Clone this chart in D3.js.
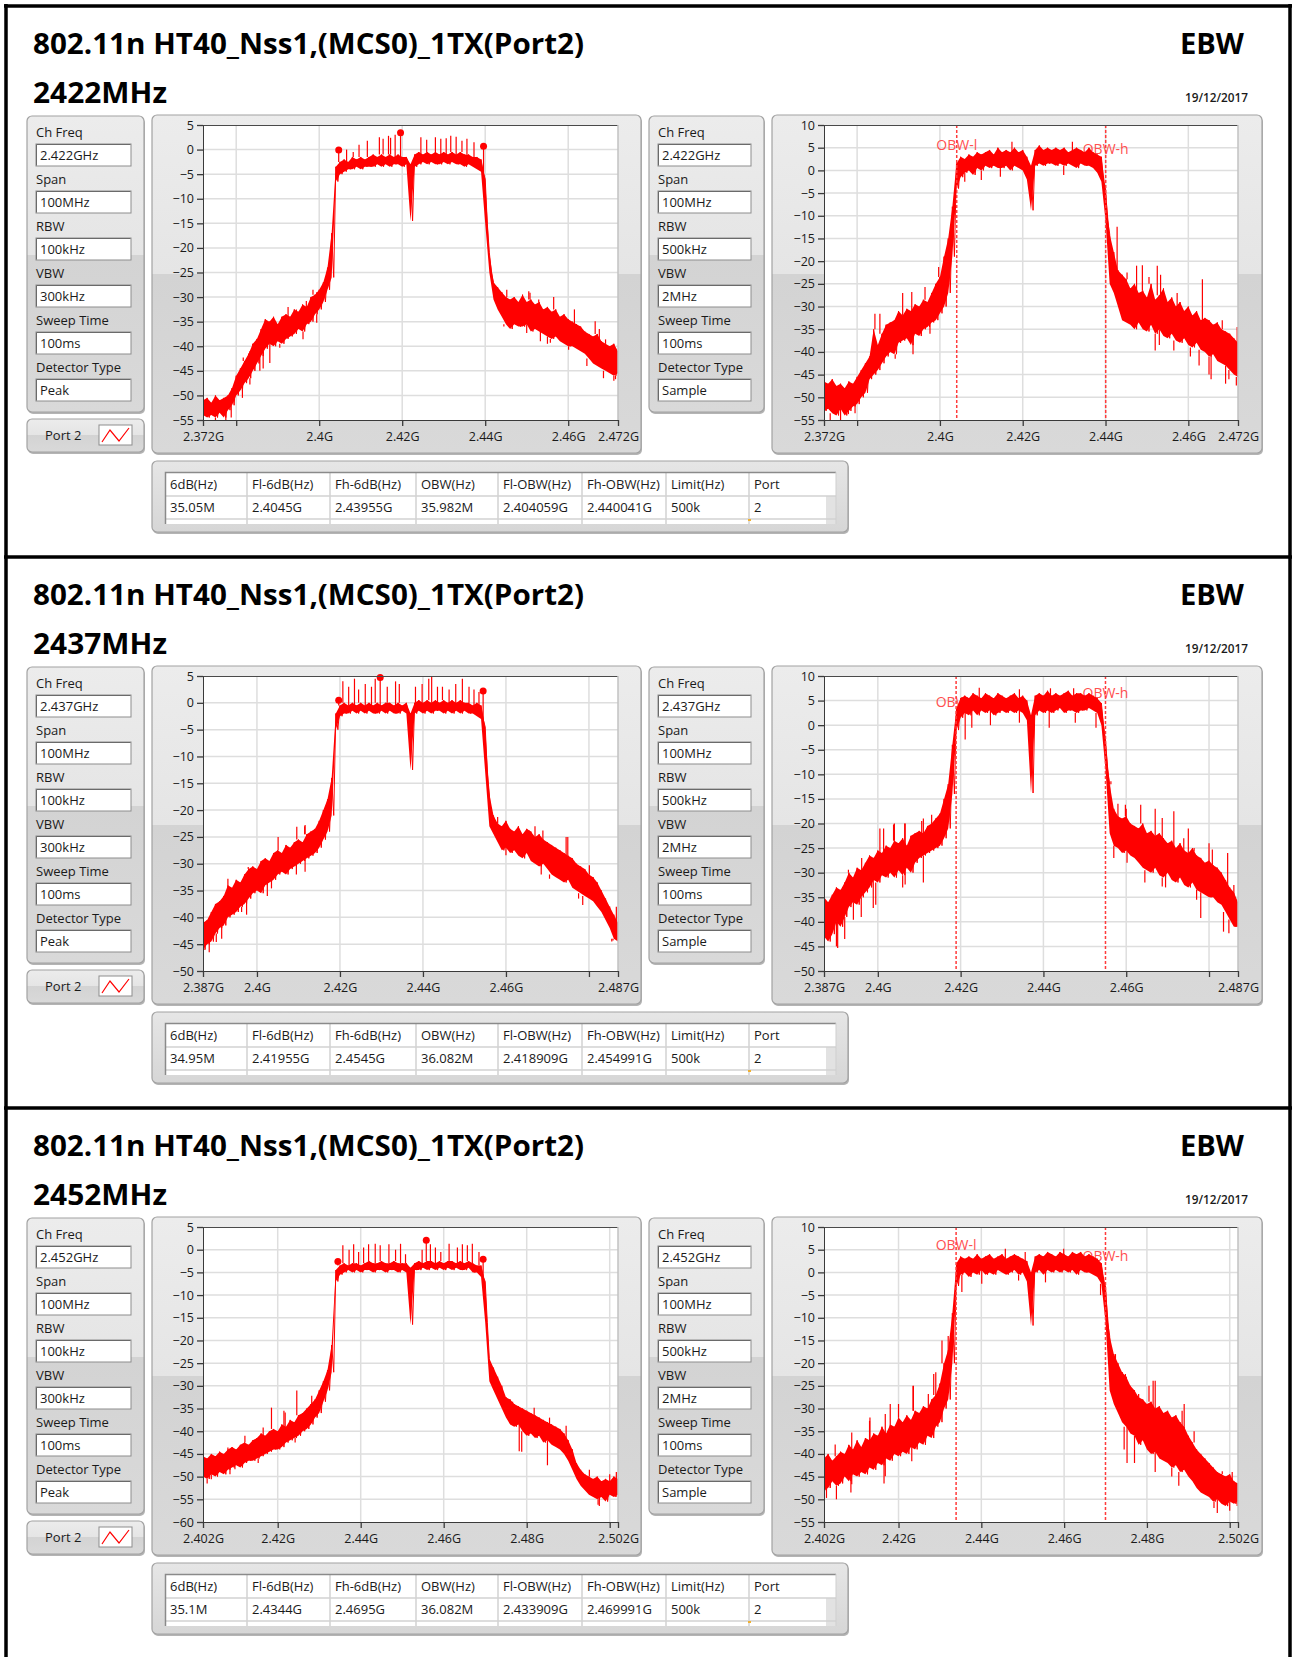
<!DOCTYPE html>
<html>
<head>
<meta charset="utf-8">
<script src="https://cdn.jsdelivr.net/npm/d3@7"></script>
<style>
  body { margin: 0; background: #fff; }
  svg { display: block; font-family: "Open Sans", "Noto Sans", sans-serif; }
</style>
</head>
<body>
<svg id="chart" width="1292" height="1657"></svg>
<script>
// ---- texts ----
const titleText = "802.11n HT40_Nss1,(MCS0)_1TX(Port2)";
const chLabels = ["2422MHz", "2437MHz", "2452MHz"];
const tagText = "EBW";
const dateText = "19/12/2017";

// ---- analyser settings ----
const paramNames = ["Ch Freq", "Span", "RBW", "VBW", "Sweep Time", "Detector Type"];
const chFreqs = ["2.422GHz", "2.437GHz", "2.452GHz"];
const peakParams = ["100MHz", "100kHz", "300kHz", "100ms", "Peak"];
const sampleParams = ["100MHz", "500kHz", "2MHz", "100ms", "Sample"];

// ---- axes ----
const startGHz = [2.372, 2.387, 2.402];   // span is 100 MHz
const xTicks = [
  [2.372, 2.38, 2.4, 2.42, 2.44, 2.46, 2.472],
  [2.387, 2.4, 2.42, 2.44, 2.46, 2.48, 2.487],
  [2.402, 2.42, 2.44, 2.46, 2.48, 2.5, 2.502]
];
const xTickLabels = [
  ["2.372G", "", "2.4G", "2.42G", "2.44G", "2.46G", "2.472G"],
  ["2.387G", "2.4G", "2.42G", "2.44G", "2.46G", "", "2.487G"],
  ["2.402G", "2.42G", "2.44G", "2.46G", "2.48G", "", "2.502G"]
];
const peakYRange = [[-55, 5], [-50, 5], [-60, 5]];
const sampleYRange = [[-55, 10], [-50, 10], [-55, 10]];

// ---- result table ----
const tableHeader = ["6dB(Hz)", "Fl-6dB(Hz)", "Fh-6dB(Hz)", "OBW(Hz)", "Fl-OBW(Hz)", "Fh-OBW(Hz)", "Limit(Hz)", "Port"];
const tableRows = [
  ["35.05M", "2.4045G", "2.43955G", "35.982M", "2.404059G", "2.440041G", "500k", "2"],
  ["34.95M", "2.41955G", "2.4545G", "36.082M", "2.418909G", "2.454991G", "500k", "2"],
  ["35.1M", "2.4344G", "2.4695G", "36.082M", "2.433909G", "2.469991G", "500k", "2"]
];
const obwLow = [2.404059, 2.418909, 2.433909];
const obwHigh = [2.440041, 2.454991, 2.469991];
const obwLabelDb = [[5.6, 4.7], [4.8, 6.5], [6, 3.7]];

// ---- traces: max / min per 1 MHz bin (dB) ----
// spk / dip = single samples sticking out of the band [MHz offset, dB]
const hi1L = [-51,-50.5,-51.5,-50,-51,-50.5,-50,-48.5,-46,-44.5,-43,-41.5,-39.5,-38.5,-36.5,-34.5,-35,-34,-35.5,-34,-33.5,-34,-32.5,-33,-31.5,-32,-30,-29.5,-28.5,-27,-24,-17,-3.5,-2.5,-2,-2.5,-1.5,-2,-1.5,-2,-1.5,-1,-1.5,-1,-1.5,-1,-1.5,-1,-1.5,-1.5,-3,-1,-0.5,-1,-0.5,-1,-0.5,-1,-0.5,-1,-0.5,-1,-0.5,-1,-1,-1.5,-1.5,-2,-6,-21,-27,-28,-29,-30,-30.5,-30,-31,-29.5,-31,-30.5,-31.5,-31,-32.5,-32,-33,-32.5,-34,-33.5,-34.5,-35,-35.5,-36,-37,-37.5,-38,-37.5,-39,-39.5,-40,-39.5,-41];
const lo1L = [-54,-54.5,-54,-54.5,-53.5,-54.5,-53,-52,-50,-49,-47.5,-46.5,-45,-43.5,-42,-40.5,-39.5,-40,-39,-39.5,-38.5,-38,-37.5,-36.5,-37,-35.5,-35,-33.5,-32.5,-31,-28.5,-26,-6.5,-5,-4.5,-4,-4,-3.5,-4,-3.5,-3.5,-3.5,-3,-3.5,-3,-3.5,-3,-3,-3.5,-3,-14.5,-3.5,-3,-2.5,-3,-2.5,-3,-3,-2.5,-3,-2.5,-3,-3,-3.5,-3,-3.5,-4,-4.5,-15,-25,-30.5,-32.5,-34,-35.5,-36.5,-35.5,-36,-36,-35.5,-37,-36.5,-37,-37.5,-38,-38.5,-38,-39,-39.5,-40,-40,-40.5,-41,-41.5,-42.5,-43.5,-44,-44.5,-45,-45.5,-46,-45.5];
const spk1L = [[34.6,0],[36.2,-0.5],[37.6,1],[39.6,1.8],[42.5,2.5],[43.4,2.2],[44.7,2.8],[45.2,2.4],[46.3,3],[52.5,2.5],[53.9,2],[56,2.5],[57.3,2.2],[58.6,2.3],[59.7,2.8],[61,2.6],[62.4,1.8],[63.6,2.2],[65.3,1.5],[9.7,-42.3],[11.3,-41],[16.1,-35.2],[19.3,-33.9],[20.5,-32],[22.5,-32.5],[24.9,-30.8],[26.5,-28.5],[27.4,-29],[73.2,-28.5],[78.5,-28.8],[78.8,-29.1],[80.9,-30.5],[84.5,-30],[84.9,-32.5],[89.5,-32.5],[94.5,-34.9],[95.5,-36.5],[97,-38.6],[99.4,-39.5]];
const dip1L = [[3,-55],[5.5,-55],[6.8,-54.5],[9.5,-50.5],[11.3,-47.8],[13.7,-45],[14.5,-44.5],[16.1,-43.4],[18.5,-40.3],[24.1,-38.6],[27.4,-35.2],[72.5,-36],[78,-37.3],[81.3,-39],[83,-39.5],[83.7,-39.3],[88.1,-40.7],[92.5,-44],[96.5,-46.5],[99,-47],[99.4,-46.7]];
const mrk1L = [[32.7,-0.1],[47.6,3.4],[67.6,0.7]];

const hi1R = [-46.5,-47,-46,-47.5,-47,-48,-46.5,-47,-45.5,-44,-42.5,-41,-35,-38.5,-36,-34,-33.5,-33,-31,-32,-30.5,-31,-29.5,-30,-28.5,-29,-27,-25,-23.5,-19,-15,-8,1.5,3,2.5,3.5,3,4,3.5,4,4.5,3.5,5,4,4.5,4,5,4,4.5,3,1,4.5,5.5,4.5,5,4.5,5,4.5,5,4,4.5,5,4.5,4,5,4,3.5,3,-4,-14,-18,-22,-23,-24,-26,-25,-27,-26.5,-28,-25,-28.5,-27.5,-26,-29,-28,-30,-29,-31,-30,-32,-31,-33,-32.5,-33,-34,-33.5,-35,-35.5,-36,-37,-38];
const lo1R = [-53,-52.5,-53.5,-54,-52.5,-54,-53,-52,-51.5,-50,-49,-46,-45,-44,-42.5,-41,-40,-40.5,-38,-37.5,-37,-38.5,-36,-36.5,-35,-34.5,-33.5,-33,-31.5,-30,-27,-19,-4,-1.5,-0.5,0,-1,0.5,0,1,0.5,1,0.5,0.5,1,0,1,0.5,0,-2,-8.8,1,1.5,1,1.5,1.5,1,1.5,1,1.5,1,0.5,1.5,1,1,0.5,-0.5,-2.5,-11,-25,-27,-30,-33,-33.5,-34,-35,-33.5,-35,-35.5,-34,-36,-35,-36.5,-37,-36,-37.5,-38,-37,-38.5,-39,-38,-39.5,-40,-41,-40.5,-42,-42.5,-43,-44,-45,-45.5];
const spk1R = [[12.3,-31.6],[13.5,-31.6],[19,-27],[21.2,-26.8],[24.4,-25.7],[27.7,-21.3],[45.4,6.3],[60,6.3],[70.8,-12.4],[73.2,-22.5],[75.5,-21],[76.9,-20.9],[78.5,-23.5],[80.5,-21],[81.3,-23],[85.3,-27],[91.4,-24],[96.2,-33],[99.8,-34.5]];
const dip1R = [[1.5,-55],[2.7,-54],[4,-55.5],[5.9,-53.7],[7.5,-53.5],[14.8,-41],[17.2,-41.5],[21.5,-40.5],[25.6,-36],[34,-2.5],[38,-2.1],[42.6,-1.4],[57.9,-1],[71.6,-33],[80,-39.7],[81,-38.5],[84.5,-39.7],[88.5,-41],[90.6,-43],[93,-45],[93.5,-46],[97,-47],[97.8,-46],[99.6,-47.4]];

const hi2L = [-41,-40.5,-39,-37.5,-37,-36,-34,-34.5,-33,-33.5,-32,-31,-30.5,-31,-29.5,-29,-29.5,-28,-27.5,-28,-26.5,-27,-26,-25.5,-26,-24.5,-24,-23.5,-22,-20,-18,-14,-2,-0.5,0,-0.5,0,-0.5,0,-0.5,0,-0.5,0,-0.5,0,0,-0.5,0,-0.5,0,-2,0,0.5,0,0.5,0,0.5,0,0.5,0,0.5,0,0.5,0,0,-0.5,0,-0.5,-4.5,-17,-21,-22.5,-23,-22,-23.5,-24,-23,-24.5,-23.5,-24,-25,-24.5,-25.5,-26,-26.5,-27,-27.5,-28,-28.5,-29,-30,-30.5,-31,-32,-32.5,-33.5,-35,-36.5,-38,-39.5,-41];
const lo2L = [-46,-45,-44.5,-43,-42,-41.5,-40,-39.5,-39,-38,-37.5,-36.5,-35.5,-35,-35.5,-34,-33.5,-33,-32,-31.5,-32,-31,-30.5,-30,-29.5,-29,-28.5,-28,-27,-25.5,-24,-21,-5,-2.5,-2,-2,-1.5,-2,-1.5,-2,-1.5,-2,-2,-1.5,-2,-1.5,-2,-2,-1.5,-2,-12.5,-2,-1.5,-2,-1.5,-2,-1.5,-1.5,-2,-1.5,-2,-1.5,-2,-1.5,-2,-2,-2.5,-3,-13,-23,-24.5,-26,-27.5,-27,-28,-27.5,-28.5,-29,-28,-29.5,-30,-30.5,-30,-31,-32,-32.5,-33,-33.5,-33,-34.5,-35,-35.5,-36,-36.5,-37,-38,-39,-40.5,-42,-44,-44.5];
const spk2L = [[33.7,4],[35.1,3],[36.5,4.5],[37.5,2.5],[39.1,3.5],[40.6,3],[41.5,4.5],[44.4,3],[46.4,4],[47.3,3.5],[51.2,3],[52.8,3.5],[54.4,4.5],[55.1,4.8],[56.5,3],[57.7,3],[59.3,2.5],[60.9,3.5],[62.5,4.5],[64.1,3],[65.3,2.5],[66.5,2],[6,-32.8],[10.9,-30.6],[18.1,-25],[22.6,-23.1],[24.5,-23],[24.6,-22.8],[27,-23.5],[29.4,-20.3],[71,-21.3],[75.4,-24],[78.6,-23.8],[80,-23],[81.9,-23.8],[87.5,-25],[87.9,-25],[93.1,-30.3],[99.6,-38]];
const dip2L = [[0.4,-46.1],[1.5,-46.5],[3.2,-44.6],[4.5,-44],[9.3,-39],[10.5,-39.5],[15.5,-36],[16.5,-34.6],[22.5,-32],[24.6,-31.5],[73,-28.4],[81.5,-32],[83.5,-32.8],[90.5,-36.5],[91.5,-37.7],[98.5,-44.5],[98.8,-44.3]];
const mrk2L = [[32.7,0.5],[42.7,4.7],[67.5,2.2]];

const hi2R = [-35,-36,-34.5,-33,-33.5,-32,-30,-31,-29,-29.5,-28,-26.5,-27,-25.5,-26,-24.5,-25,-23.5,-24,-23,-24.5,-22.5,-22,-21.5,-22,-20.5,-20,-19,-18,-15,-12,-4,3.5,5.5,6,5.5,6.5,6,5.5,6.5,6,5.5,6.5,6,5.5,6,6.5,5.5,6,5,2,6,6.5,6,7,6,6.5,6,6.5,7,6,6.5,6.5,6,6.5,6,5.5,4.5,-3,-12,-17,-18.5,-19,-18.5,-20,-20.5,-21,-20,-22,-21.5,-22.5,-22,-23,-24,-23.5,-25,-24,-25.5,-26,-25,-26.5,-27,-28,-27.5,-28.5,-29,-30,-31.5,-33,-34,-36];
const lo2R = [-43,-44,-42.5,-40,-41,-39,-37,-36,-36.5,-35,-34,-33,-31.5,-32,-30.5,-31,-30,-31,-29.5,-30.5,-29,-30,-28,-27,-26.5,-26,-25.5,-25,-24.5,-23,-21,-14,-1,1.5,2.5,2,3,2,3,2.5,3,2,2.5,3,2.5,3,2.5,3,2.5,1,-13.8,2,3,2.5,3,2.5,3,3.5,2.5,3,3,2.5,3,3,3.5,3,2.5,0,-9,-22,-24.5,-25,-26,-25.5,-26.5,-27,-28,-29,-29.5,-30,-29,-30.5,-31,-30,-31.5,-32,-31,-32.5,-33,-32,-33.5,-34,-34.5,-35,-35,-36,-36.5,-38,-39.5,-41,-41];
const spk2R = [[5.9,-29.4],[9.1,-27],[13.5,-21],[14.4,-21],[16.8,-20.2],[17,-20],[19.5,-20],[19.6,-20],[23.6,-19.5],[24,-19],[26,-18.2],[37.5,7.6],[47.2,7.3],[54.7,7.5],[60.3,7.5],[69.3,-11.4],[71,-16],[72.8,-16.2],[73,-17],[76.5,-16.2],[80,-17],[81.7,-18.9],[84.5,-17.5],[86.9,-23],[88,-21],[89.4,-25.7],[93,-24],[93.8,-25.3],[97.5,-26],[99,-32.5]];
const dip2R = [[3,-45],[3.3,-45.3],[5,-43.5],[7.1,-39.6],[9,-39],[11.9,-37.2],[12.5,-36.5],[19,-33],[19.6,-32.4],[24,-32],[34.1,-2.9],[35.7,-0.5],[40.2,0],[47.2,0.5],[54.4,-0.5],[60.7,0.5],[65.7,-0.5],[70,-27],[73.2,-28],[77.5,-32],[81.7,-32.8],[82.5,-33],[90,-35.5],[91,-39.2],[96.5,-42],[97.8,-42.3]];

const hi3L = [-45.5,-46,-45,-45.5,-44.5,-45,-44,-43.5,-44,-43,-42.5,-43,-42,-41.5,-40.5,-41,-40,-39.5,-40,-38.5,-39,-37.5,-38,-36.5,-36,-35,-34,-33,-31,-29,-26.5,-21,-4.5,-3.5,-3,-3.5,-3,-3,-3.5,-3,-2.5,-3,-3,-2.5,-3,-3,-2.5,-3,-3,-3,-4,-3,-2.5,-3,-2.5,-2.5,-3,-2.5,-3,-2.5,-2.5,-3,-2.5,-3,-2.5,-3,-3.5,-3.5,-7,-24,-26,-28,-30,-32.5,-33,-34,-34.5,-35,-35.5,-36,-36.5,-37,-37.5,-38,-38.5,-39,-39.5,-40.5,-42,-44,-47,-48.5,-49.5,-50,-50.5,-50,-51,-50.5,-51,-50,-50.5];
const lo3L = [-50,-50.5,-49.5,-50,-49,-49.5,-48.5,-48,-47.5,-48,-47,-46.5,-46.5,-46,-45.5,-45,-44.5,-44,-44,-43.5,-42.5,-42,-41.5,-41,-40,-39.5,-38.5,-37,-36,-33.5,-31,-27,-7,-5.5,-5,-4.5,-5,-4.5,-5,-4.5,-4.5,-5,-4.5,-4.5,-5,-4.5,-4.5,-5,-4.5,-5,-16.5,-4.5,-4.5,-4,-4.5,-4,-4.5,-4,-4.5,-4,-4.5,-4,-4.5,-4.5,-4,-5,-5,-6,-16,-29,-31,-33,-35,-37,-38.5,-39,-38.5,-40,-41,-40.5,-41.5,-41,-42.5,-42,-43,-43.5,-44,-45,-46.5,-48.5,-50.5,-52,-53,-54,-54.5,-55,-54.5,-55.5,-54,-54.5,-54];
const spk3L = [[33.7,1],[35.2,0],[36.3,1.2],[37.5,-0.5],[38.7,0.5],[39.9,1.2],[41.5,1.3],[42.7,1],[44.8,1.2],[46.4,0],[47.6,1.3],[48.8,-1],[52.8,0],[54.8,1.2],[56,0.5],[57.3,-0.5],[59.3,1.3],[61.3,0.5],[62.5,1.2],[63.7,1],[64.9,1.3],[66.5,-0.5],[6,-43.6],[10.1,-41],[14.5,-39.2],[16.5,-34.8],[19.5,-35.5],[19.8,-35.9],[22.6,-31],[26.2,-32.2],[74.6,-33.5],[79.8,-34.8],[83.5,-37],[87.5,-38.8],[93.1,-48.5],[98,-49.5],[99.6,-49]];
const dip3L = [[1,-51.5],[2,-50.6],[6.5,-49.5],[7.7,-48.4],[13.3,-47],[22.2,-42.5],[76.2,-44.4],[76.8,-44.5],[83,-47.5],[95.2,-56.2],[95.5,-56.5]];
const mrk3L = [[32.5,-2.6],[53.8,2.1],[67.5,-2.1]];

const hi3R = [-41,-40,-41.5,-40.5,-39.5,-40,-38,-39,-37,-38.5,-36.5,-37,-35.5,-36,-34,-35.5,-33.5,-34,-32,-33,-31.5,-32.5,-30.5,-31,-29.5,-30,-28,-27,-24.5,-20,-17,-9,2,3.5,3,3.5,3,4,3,3.5,4,3,3.5,4,3,3.5,4,3.5,3,2.5,0,3.5,4,3.5,4.5,4,3.5,4.5,4,3.5,4.5,4,4.5,3.5,4,3.5,3,2,-3,-14,-18,-20,-22,-23,-25,-26,-27.5,-28,-29,-28.5,-30,-29.5,-31,-30.5,-32,-31.5,-33,-34,-36,-37.5,-39,-40,-41,-42,-43,-44,-44.5,-45,-44.5,-46,-46.5];
const lo3R = [-48,-47.5,-46,-47,-46.5,-45,-46,-44.5,-45,-44,-44.5,-43,-43.5,-42,-42.5,-41,-41.5,-40,-40.5,-39.5,-40,-38.5,-39,-37.5,-38,-36,-36.5,-34,-33,-30,-28,-20,-3,-0.5,0,-1,0,-0.5,0.5,-0.5,0,-0.5,0.5,0,-0.5,0,0.5,-0.5,0,-2,-11.7,0,0.5,-0.5,0.5,0,0.5,0,0.5,0,0.5,-0.5,0.5,0,0,-0.5,-1,-2.5,-11,-26,-29,-31,-33,-34,-35.5,-36,-38,-37,-39,-40,-39.5,-41,-41.5,-42,-43,-42.5,-44,-43.5,-45,-46,-47.5,-48.5,-49,-49.5,-50.5,-50,-51,-51.5,-50.5,-51,-50.5];
const spk3R = [[2.7,-37.9],[6.7,-35.3],[11,-32.7],[11.1,-32],[14.8,-31.2],[16,-29],[18,-29],[21.5,-25],[21.6,-25],[25.2,-26.8],[26.5,-22.4],[27,-22],[28.5,-15],[30,-14],[43.8,5.2],[48.6,4.5],[57.9,5.2],[70.4,-19.5],[72,-23],[72.8,-22.4],[76,-26.8],[78.5,-25],[79.5,-23.9],[80,-23.9],[82.5,-30.5],[86.5,-30.5],[87,-29],[89.4,-35],[96.2,-43.8],[98.6,-44]];
const dip3R = [[0.6,-49.7],[3,-50],[6.5,-48.5],[6.7,-46.7],[14.5,-46.5],[14.8,-44.9],[21.2,-41.6],[33.3,-4.3],[38.1,-2.5],[47,-1.8],[53.5,-2.2],[66.8,-5],[72.5,-39],[73.2,-42],[75,-42],[80,-44],[84,-45],[85.7,-47],[94.2,-51.9],[95,-53],[98,-52.5],[99.8,-51.5]];

const peakTraces = [
  { hi: hi1L, lo: lo1L, spk: spk1L, dip: dip1L, mrk: mrk1L },
  { hi: hi2L, lo: lo2L, spk: spk2L, dip: dip2L, mrk: mrk2L },
  { hi: hi3L, lo: lo3L, spk: spk3L, dip: dip3L, mrk: mrk3L }
];
const sampleTraces = [
  { hi: hi1R, lo: lo1R, spk: spk1R, dip: dip1R },
  { hi: hi2R, lo: lo2R, spk: spk2R, dip: dip2R },
  { hi: hi3R, lo: lo3R, spk: spk3R, dip: dip3R }
];

const SEC_STEP = 551;
const RED = "#ff0000";
const svg = d3.select("#chart");

// gradients for the grey LabVIEW-like frames
const defs = svg.append("defs");
const gp = defs.append("linearGradient").attr("id", "gPanel").attr("x1", 0).attr("y1", 0).attr("x2", 0).attr("y2", 1);
gp.append("stop").attr("offset", "0").attr("stop-color", "#ececec");
gp.append("stop").attr("offset", "0.47").attr("stop-color", "#e5e5e5");
gp.append("stop").attr("offset", "0.47").attr("stop-color", "#d3d3d3");
gp.append("stop").attr("offset", "1").attr("stop-color", "#d9d9d9");
const gt = defs.append("linearGradient").attr("id", "gTable").attr("x1", 0).attr("y1", 0).attr("x2", 0).attr("y2", 1);
gt.append("stop").attr("offset", "0").attr("stop-color", "#e6e6e6");
gt.append("stop").attr("offset", "1").attr("stop-color", "#d6d6d6");

function panel(g, x, y, w, h, fill) {
  g.append("rect").attr("x", x + 1).attr("y", y + 2).attr("width", w).attr("height", h)
    .attr("rx", 5).attr("fill", "#b4b4b4");
  g.append("rect").attr("x", x).attr("y", y).attr("width", w).attr("height", h)
    .attr("rx", 5).attr("fill", fill || "url(#gPanel)")
    .attr("stroke", "#a2a2a2").attr("stroke-width", 1.2);
}

function txt(g, x, y, s, size, extra) {
  const t = g.append("text").attr("x", x).attr("y", y)
    .attr("font-size", size).attr("fill", "#1a1a1a").text(s);
  if (extra) Object.entries(extra).forEach(([k, v]) => t.attr(k, v));
  return t;
}

function paramBox(g, x, y, w, vals) {
  panel(g, x, y, w, 296);
  paramNames.forEach((name, k) => {
    txt(g, x + 9, y + 21 + k * 47, name, 13);
    const by = y + 28 + k * 47;
    g.append("rect").attr("x", x + 9).attr("y", by).attr("width", w - 22).attr("height", 22)
      .attr("fill", "#fff").attr("stroke", "#8d8d8d");
    g.append("path").attr("d", `M${x + 9.5},${by + 21.5}V${by + 0.5}H${x + w - 13.5}`)
      .attr("fill", "none").attr("stroke", "#6a6a6a");
    txt(g, x + 13, by + 16, vals[k], 13);
  });
}

function drawPlot(g, id, px, py, pw, ph, s, yDom, tr, isPeak) {
  const f0 = startGHz[s];
  const x = d3.scaleLinear().domain([f0, f0 + 0.1]).range([px, px + pw]);
  const y = d3.scaleLinear().domain(yDom).range([py + ph, py]);
  const fx = i => x(f0 + i / 1000);

  g.append("rect").attr("x", px).attr("y", py).attr("width", pw).attr("height", ph).attr("fill", "#fff");

  const yTicks = d3.range(yDom[0], yDom[1] + 0.1, 5);
  g.append("g").selectAll("line").data(yTicks.slice(1, -1)).join("line")
    .attr("x1", px).attr("x2", px + pw).attr("y1", d => y(d)).attr("y2", d => y(d))
    .attr("stroke", "#dedede").attr("stroke-width", 1.5);
  g.append("g").selectAll("line").data(xTicks[s].slice(1, -1)).join("line")
    .attr("x1", d => x(d)).attr("x2", d => x(d)).attr("y1", py).attr("y2", py + ph)
    .attr("stroke", "#dedede").attr("stroke-width", 1.5);

  defs.append("clipPath").attr("id", id).append("rect")
    .attr("x", px).attr("y", py).attr("width", pw).attr("height", ph);
  const c = g.append("g").attr("clip-path", `url(#${id})`);

  if (!isPeak) {
    const lab = ["OBW-l", "OBW-h"];
    [obwLow[s], obwHigh[s]].forEach((f, k) => {
      c.append("text").attr("x", x(f)).attr("y", y(obwLabelDb[s][k]) + 5)
        .attr("text-anchor", "middle").attr("font-size", 14).attr("fill", "#ff4f4f").text(lab[k]);
    });
  }

  // trace: filled min/max band plus zig-zag through the bin extremes
  const band = d3.area().x((d, i) => fx(i)).y0((d, i) => y(tr.lo[i])).y1(d => y(d));
  c.append("path").attr("d", band(tr.hi)).attr("fill", RED);
  const zz = [];
  tr.hi.forEach((h, i) => { zz.push([fx(i), y(h)]); zz.push([fx(i + 0.5), y(tr.lo[i])]); });
  c.append("path").attr("d", d3.line()(zz)).attr("fill", "none").attr("stroke", RED).attr("stroke-width", 1);
  c.append("g").selectAll("line").data(tr.spk).join("line")
    .attr("x1", d => fx(d[0])).attr("x2", d => fx(d[0]))
    .attr("y1", d => y(tr.hi[Math.round(d[0])])).attr("y2", d => y(d[1]))
    .attr("stroke", RED).attr("stroke-width", 1.2);
  c.append("g").selectAll("line").data(tr.dip).join("line")
    .attr("x1", d => fx(d[0])).attr("x2", d => fx(d[0]))
    .attr("y1", d => y(tr.lo[Math.round(d[0])])).attr("y2", d => y(d[1]))
    .attr("stroke", RED).attr("stroke-width", 1.2);

  if (isPeak) {
    c.append("g").selectAll("line").data(tr.mrk).join("line")
      .attr("x1", d => fx(d[0])).attr("x2", d => fx(d[0]))
      .attr("y1", d => y(tr.hi[Math.round(d[0])])).attr("y2", d => y(d[1]))
      .attr("stroke", RED).attr("stroke-width", 1.2);
    g.append("g").selectAll("circle").data(tr.mrk).join("circle")
      .attr("cx", d => fx(d[0])).attr("cy", d => y(d[1])).attr("r", 3.5).attr("fill", RED);
  } else {
    c.append("g").selectAll("line").data([obwLow[s], obwHigh[s]]).join("line")
      .attr("x1", d => x(d)).attr("x2", d => x(d)).attr("y1", py).attr("y2", py + ph)
      .attr("stroke", "#ff3b3b").attr("stroke-width", 1.5).attr("stroke-dasharray", "3,2");
  }

  // frame
  g.append("line").attr("x1", px).attr("x2", px + pw).attr("y1", py + 0.5).attr("y2", py + 0.5)
    .attr("stroke", "#4a4a4a");
  g.append("line").attr("x1", px + pw).attr("x2", px + pw).attr("y1", py).attr("y2", py + ph)
    .attr("stroke", "#c2c2c2").attr("stroke-width", 1.5);

  const ya = g.append("g").attr("transform", `translate(${px},0)`)
    .call(d3.axisLeft(y).tickValues(yTicks).tickSize(6).tickSizeOuter(0).tickPadding(3));
  const xa = g.append("g").attr("transform", `translate(0,${py + ph})`)
    .call(d3.axisBottom(x).tickValues(xTicks[s]).tickFormat((d, i) => xTickLabels[s][i])
      .tickSize(6).tickSizeOuter(0).tickPadding(6));
  [ya, xa].forEach(a => {
    a.select(".domain").attr("stroke", "#3a3a3a");
    a.selectAll(".tick line").attr("stroke", "#3a3a3a").attr("stroke-width", 1.3);
    a.selectAll("text").attr("font-size", 12.5).attr("fill", "#1a1a1a")
      .attr("font-family", "'Open Sans', 'Noto Sans', sans-serif");
  });
}

function drawTable(g, s) {
  panel(g, 152, 461, 696, 71, "url(#gTable)");
  const colX = [165, 247, 330, 416, 498, 582, 666, 749, 836];
  g.append("rect").attr("x", 165).attr("y", 472).attr("width", 671).attr("height", 52).attr("fill", "#fff");
  g.append("rect").attr("x", 826).attr("y", 496).attr("width", 10).attr("height", 28).attr("fill", "#e2e2e2");
  [496, 519].forEach(yy => g.append("line").attr("x1", 165).attr("x2", 836).attr("y1", yy).attr("y2", yy)
    .attr("stroke", "#d2d2d2").attr("stroke-width", 1.5));
  colX.slice(1, -1).forEach(xx => g.append("line").attr("x1", xx).attr("x2", xx).attr("y1", 472).attr("y2", 524)
    .attr("stroke", "#d2d2d2").attr("stroke-width", 1.5));
  g.append("path").attr("d", "M165.5,524V472.5H836").attr("fill", "none").attr("stroke", "#8a8a8a").attr("stroke-width", 1.5);
  g.append("line").attr("x1", 836).attr("x2", 836).attr("y1", 472).attr("y2", 524).attr("stroke", "#cfcfcf");
  tableHeader.forEach((h, k) => txt(g, colX[k] + 5, 489, h, 13));
  tableRows[s].forEach((v, k) => txt(g, colX[k] + 5, 512, v, 13));
  g.append("rect").attr("x", 748).attr("y", 519).attr("width", 3).attr("height", 2).attr("fill", "#f0b030");
}

[0, 1, 2].forEach(s => {
  const g = svg.append("g").attr("transform", `translate(0,${s * SEC_STEP})`);

  txt(g, 33, 54, titleText, 29, { "font-weight": 700, textLength: 551, lengthAdjust: "spacingAndGlyphs", fill: "#000" });
  txt(g, 33, 103, chLabels[s], 29, { "font-weight": 700, textLength: 134, lengthAdjust: "spacingAndGlyphs", fill: "#000" });
  txt(g, 1180, 54, tagText, 29, { "font-weight": 700, textLength: 64, lengthAdjust: "spacingAndGlyphs", fill: "#000" });
  txt(g, 1185, 102, dateText, 12.5, { textLength: 63, lengthAdjust: "spacingAndGlyphs", "font-weight": 600 });

  // left settings + legend
  paramBox(g, 27, 116, 117, [chFreqs[s]].concat(peakParams));
  panel(g, 27, 419, 117, 33);
  txt(g, 45, 440, "Port 2", 13);
  g.append("rect").attr("x", 99).attr("y", 425).attr("width", 33).attr("height", 20)
    .attr("fill", "#fff").attr("stroke", "#8d8d8d");
  g.append("polyline").attr("points", "102,442 110,430 119,441 129,428")
    .attr("fill", "none").attr("stroke", RED).attr("stroke-width", 1.2);

  // peak spectrum
  panel(g, 152, 115, 489, 338);
  drawPlot(g, `clipP${s}`, 203, 125, 415, 295, s, peakYRange[s], peakTraces[s], true);

  // right settings + sample spectrum with OBW cursors
  paramBox(g, 649, 116, 115, [chFreqs[s]].concat(sampleParams));
  panel(g, 772, 115, 490, 338);
  drawPlot(g, `clipS${s}`, 824, 125, 414, 295, s, sampleYRange[s], sampleTraces[s], false);

  drawTable(g, s);
});

// outer black frame and section separators
const frame = svg.append("g").attr("stroke", "#000").attr("stroke-width", 3.5);
frame.append("line").attr("x1", 4).attr("x2", 1292).attr("y1", 6).attr("y2", 6);
frame.append("line").attr("x1", 6).attr("x2", 6).attr("y1", 4).attr("y2", 1657);
frame.append("line").attr("x1", 1290).attr("x2", 1290).attr("y1", 4).attr("y2", 1657);
[557, 1108].forEach(yy => frame.append("line").attr("x1", 4).attr("x2", 1292).attr("y1", yy).attr("y2", yy));
</script>
</body>
</html>
